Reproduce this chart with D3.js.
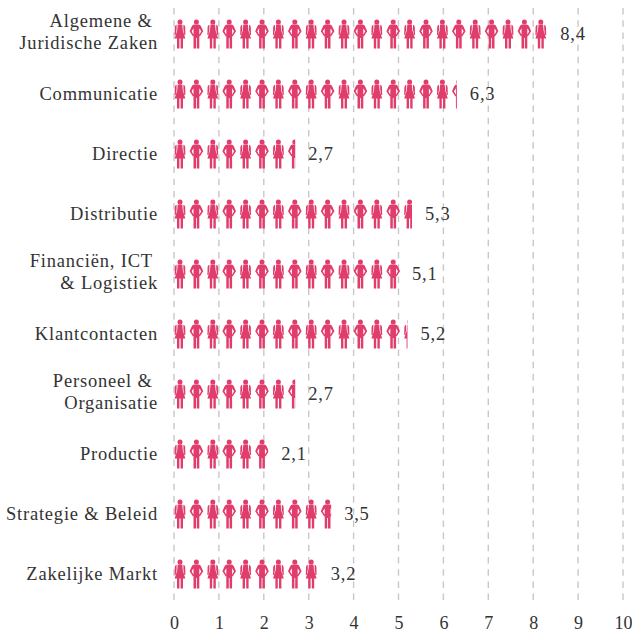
<!DOCTYPE html>
<html>
<head>
<meta charset="utf-8">
<script src="https://cdn.jsdelivr.net/npm/d3@7"></script>
<style>
  html, body { margin: 0; padding: 0; background: #fff; }
  text { font-family: "Liberation Serif", serif; fill: #333; letter-spacing: 0.8px; }
</style>
</head>
<body>
<div id="chart"></div>
<script>
var categories = ["Algemene & \nJuridische Zaken", "Communicatie", "Directie", "Distributie", "Financiën, ICT \n& Logistiek", "Klantcontacten", "Personeel & \nOrganisatie", "Productie", "Strategie & Beleid", "Zakelijke Markt"];
var values = [8.4, 6.3, 2.7, 5.3, 5.1, 5.2, 2.7, 2.1, 3.5, 3.2];
var valueLabels = ["8,4", "6,3", "2,7", "5,3", "5,1", "5,2", "2,7", "2,1", "3,5", "3,2"];
var ticks = [0, 1, 2, 3, 4, 5, 6, 7, 8, 9, 10];

var width = 632, height = 635;
var pink = "#e03c6c";
var fontSize = "18.5px";

var svg = d3.select("#chart")
    .append("svg")
    .attr("width", width)
    .attr("height", height)
    .style("display", "block");

var x = d3.scaleLinear().domain([0, 10]).range([174, 623]);
var y = d3.scaleBand().domain(categories).range([4, 604]);

// one icon stands for this many units on the x axis
var iconPitch = 16.4;
var iconUnit = x.invert(x(0) + iconPitch);

var femalePath = "M-2.3 5 L2.3 5 L2.8 11 L5.4 19 L3 19 L3 29 L0.6 29 L0.6 19 L-0.6 19 L-0.6 29 L-3 29 L-3 19 L-5.4 19 L-2.8 11 Z"
    + "M3.4 5.2 Q5 5.6 5.2 7.5 L5.4 15.5 L4.4 15.5 L3.4 10 Z M-3.4 5.2 Q-5 5.6 -5.2 7.5 L-5.4 15.5 L-4.4 15.5 L-3.4 10 Z";
var malePath = "M-2.2 5 L2.2 5 Q3.8 5 4.6 6.8 L6.8 11.8 L3.4 17 L2.5 16 L4.8 11.8 L2.9 8.8 L2.9 29 L0.4 29 L0.4 18.5 L-0.4 18.5 L-0.4 29 L-2.9 29 L-2.9 8.8 L-4.8 11.8 L-2.5 16 L-3.4 17 L-6.8 11.8 L-4.6 6.8 Q-3.8 5 -2.2 5 Z";

// Gridlines
svg.append("g").selectAll("line")
    .data(ticks)
    .enter()
    .append("line")
    .attr("x1", d => x(d))
    .attr("x2", d => x(d))
    .attr("y1", 8)
    .attr("y2", 604)
    .style("stroke", "#c8c8c8")
    .style("stroke-width", 1.4)
    .style("stroke-dasharray", "6.5,5.7");

// Axis labels
var axis = d3.axisBottom(x).tickValues(ticks).tickSize(0).tickPadding(0);
var axisG = svg.append("g")
    .attr("transform", "translate(0,616)")
    .call(axis);
axisG.select(".domain").remove();
axisG.selectAll("text")
    .style("font-size", "18px")
    .style("letter-spacing", "0")
    .style("font-family", '"Liberation Serif", serif')
    .style("fill", "#333");

var rows = svg.append("g").selectAll("g")
    .data(categories)
    .enter()
    .append("g")
    .attr("transform", d => "translate(0," + y(d) + ")");

// Icon rows, clipped at the value
rows.each(function(d, i) {
    var row = d3.select(this);
    var top = y.bandwidth() / 2 - 14.5;

    row.append("clipPath")
        .attr("id", "clip" + i)
        .append("rect")
        .attr("x", x(0))
        .attr("y", 0)
        .attr("width", x(values[i]) - x(0))
        .attr("height", y.bandwidth());

    var icons = row.append("g")
        .attr("clip-path", "url(#clip" + i + ")")
        .selectAll("g")
        .data(d3.range(Math.ceil(values[i] / iconUnit)))
        .enter()
        .append("g")
        .attr("transform", n => "translate(" + (x(n * iconUnit) + 6) + "," + top + ")")
        .style("fill", pink);

    icons.append("circle")
        .attr("cx", 0)
        .attr("cy", 2.4)
        .attr("r", 2.5);
    icons.append("path")
        .attr("d", n => n % 2 == 0 ? femalePath : malePath);

    row.append("text")
        .attr("x", x(values[i]) + (values[i] == 8.4 || values[i] == 5.1 ? 9 : 13))
        .attr("y", y.bandwidth() / 2 + 6)
        .style("font-size", fontSize)
        .text(valueLabels[i]);

    var lines = d.split("\n");
    var label = row.append("text")
        .attr("text-anchor", "end")
        .attr("y", y.bandwidth() / 2 + 6 - (lines.length - 1) * 13)
        .style("font-size", fontSize)
        .style("white-space", "pre");
    label.selectAll("tspan")
        .data(lines)
        .enter()
        .append("tspan")
        .attr("x", 158)
        .attr("dy", (l, k) => k == 0 ? 0 : 22)
        .text(l => l);
});
</script>
</body>
</html>
